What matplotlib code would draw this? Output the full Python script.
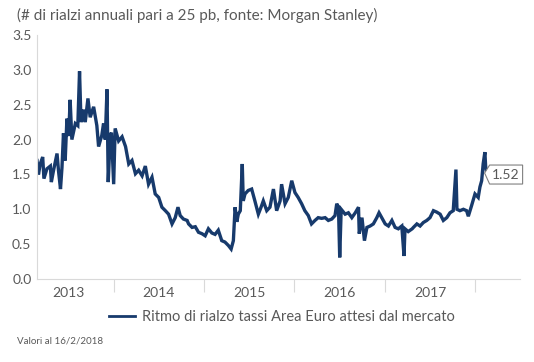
import matplotlib
matplotlib.use("Agg")
import matplotlib.pyplot as plt
import matplotlib.dates as mdates
from matplotlib.patches import Polygon
from matplotlib.transforms import Affine2D
import pandas as pd

dates = [
    "2013-02-24", "2013-03-02", "2013-03-09", "2013-03-19", "2013-03-24", "2013-04-05",
    "2013-04-19", "2013-04-23", "2013-05-02", "2013-05-16", "2013-05-22", "2013-05-30",
    "2013-06-05", "2013-06-11", "2013-06-18", "2013-06-25", "2013-07-02", "2013-07-08",
    "2013-07-15", "2013-07-29", "2013-08-08", "2013-08-15", "2013-08-21", "2013-08-31",
    "2013-09-07", "2013-09-18", "2013-09-27", "2013-10-11", "2013-10-24", "2013-10-31",
    "2013-11-13", "2013-11-20", "2013-11-27", "2013-12-04", "2013-12-09", "2013-12-17",
    "2013-12-22", "2013-12-31", "2014-01-06", "2014-01-20", "2014-02-03", "2014-02-17",
    "2014-03-02", "2014-03-15", "2014-03-29", "2014-04-11", "2014-04-25", "2014-05-08",
    "2014-05-21", "2014-06-04", "2014-06-17", "2014-07-01", "2014-07-14", "2014-07-28",
    "2014-08-10", "2014-08-24", "2014-09-06", "2014-09-17", "2014-09-26", "2014-10-09",
    "2014-10-24", "2014-10-30", "2014-11-13", "2014-11-26", "2014-12-09", "2014-12-23",
    "2015-01-05", "2015-01-18", "2015-02-01", "2015-02-14", "2015-02-27", "2015-03-13",
    "2015-03-26", "2015-04-09", "2015-04-20", "2015-04-29", "2015-05-06", "2015-05-13",
    "2015-05-19", "2015-05-27", "2015-06-04", "2015-06-08", "2015-06-15", "2015-06-28",
    "2015-07-12", "2015-07-25", "2015-08-08", "2015-08-19", "2015-08-28", "2015-09-11",
    "2015-09-24", "2015-10-08", "2015-10-21", "2015-11-04", "2015-11-10", "2015-11-24",
    "2015-12-07", "2015-12-21", "2016-01-03", "2016-01-16", "2016-01-30", "2016-02-12",
    "2016-02-26", "2016-03-10", "2016-03-24", "2016-04-06", "2016-04-20", "2016-05-04",
    "2016-05-17", "2016-05-31", "2016-06-13", "2016-06-20", "2016-06-27", "2016-07-02",
    "2016-07-08", "2016-07-24", "2016-08-06", "2016-08-20", "2016-09-03", "2016-09-16",
    "2016-09-19", "2016-09-30", "2016-10-10", "2016-10-20", "2016-11-02", "2016-11-15",
    "2016-11-29", "2016-12-08", "2016-12-19", "2017-01-02", "2017-01-15", "2017-01-29",
    "2017-02-11", "2017-02-24", "2017-03-10", "2017-03-19", "2017-03-23", "2017-04-05",
    "2017-04-21", "2017-04-26", "2017-05-10", "2017-05-23", "2017-06-05", "2017-06-19",
    "2017-07-02", "2017-07-16", "2017-07-29", "2017-08-12", "2017-08-25", "2017-09-08",
    "2017-09-21", "2017-10-04", "2017-10-15", "2017-10-19", "2017-10-31", "2017-11-14",
    "2017-11-27", "2017-12-04", "2017-12-17", "2017-12-31", "2018-01-13", "2018-01-20",
    "2018-01-27", "2018-02-02", "2018-02-09", "2018-02-12", "2018-02-16",
]
values = [
    1.70, 1.50, 1.65, 1.75, 1.44, 1.58,
    1.62, 1.39, 1.56, 1.80, 1.55, 1.29,
    1.60, 2.09, 1.70, 2.30, 2.05, 2.57,
    2.00, 2.23, 2.20, 2.98, 2.25, 2.43,
    2.25, 2.59, 2.32, 2.47, 2.20, 1.90,
    2.06, 2.23, 2.00, 2.72, 1.39, 2.05,
    2.10, 1.36, 2.16, 1.98, 2.04, 1.90,
    1.65, 1.70, 1.51, 1.56, 1.48, 1.62,
    1.36, 1.46, 1.22, 1.17, 1.03, 0.98,
    0.93, 0.79, 0.88, 1.03, 0.91, 0.86,
    0.84, 0.79, 0.74, 0.75, 0.67, 0.65,
    0.62, 0.72, 0.66, 0.64, 0.70, 0.55,
    0.53, 0.48, 0.43, 0.55, 1.03, 0.82,
    0.93, 0.98, 1.65, 1.12, 1.22, 1.27,
    1.29, 1.12, 0.93, 1.03, 1.12, 0.98,
    1.03, 1.29, 0.98, 1.12, 1.36, 1.08,
    1.17, 1.41, 1.24, 1.17, 1.08, 0.98,
    0.91, 0.79, 0.84, 0.88, 0.87, 0.88,
    0.84, 0.86, 0.91, 1.08, 1.03, 0.31,
    1.00, 0.93, 0.95, 0.88, 0.95, 1.03,
    0.65, 0.88, 0.55, 0.74, 0.76, 0.79,
    0.88, 0.95, 0.88, 0.79, 0.76, 0.84,
    0.74, 0.72, 0.76, 0.33, 0.72, 0.68,
    0.72, 0.74, 0.79, 0.76, 0.81, 0.84,
    0.88, 0.98, 0.96, 0.93, 0.84, 0.88,
    0.95, 0.98, 1.57, 1.00, 0.98, 1.00,
    0.98, 0.90, 1.05, 1.22, 1.17, 1.32,
    1.41, 1.65, 1.82, 1.62, 1.52,
]
year_labels = ["2013", "2014", "2015", "2016", "2017"]
y_ticks = [0.0, 0.5, 1.0, 1.5, 2.0, 2.5, 3.0, 3.5]
series_label = "Ritmo di rialzo tassi Area Euro attesi dal mercato"
title_text = "(# di rialzi annuali pari a 25 pb, fonte: Morgan Stanley)"
note_text = "Valori al 16/2/2018"
last_label = "1.52"

LINE = "#173a6c"
TXT = "#595959"
AX = "#d9d9d9"
FONT = ["Lato", "DejaVu Sans"]

x = pd.to_datetime(dates)

fig = plt.figure(figsize=(5.34, 3.62), dpi=100)
W, H = 534, 362
ax = fig.add_axes([37 / W, 1 - 279 / H, (520 - 37) / W, (279 - 35) / H])

ax.plot(x, values, color=LINE, lw=2.4, solid_joinstyle="miter")

ax.set_ylim(0, 3.5)
ax.set_xlim(pd.Timestamp("2013-02-24"), pd.Timestamp("2018-07-01"))
ax.set_yticks(y_ticks)
ax.set_yticklabels([f"{v:.1f}" for v in y_ticks], family=FONT, fontsize=10, color=TXT)
ax.tick_params(axis="y", length=0, pad=4)

major = [pd.Timestamp(f"{int(y) + 1}-01-01") for y in year_labels]
minor = [pd.Timestamp(f"{y}-07-02") for y in year_labels]
ax.set_xticks(major)
ax.set_xticklabels([""] * len(major))
ax.set_xticks(minor, minor=True)
ax.set_xticklabels(year_labels, minor=True, family=FONT, fontsize=10, color=TXT)
ax.tick_params(axis="x", which="major", length=9, width=0.8, color=AX, direction="out")
ax.tick_params(axis="x", which="minor", length=0, pad=6)

for s in ["top", "right"]:
    ax.spines[s].set_visible(False)
ax.spines["left"].set_color(AX)
ax.spines["bottom"].set_color(AX)
ax.spines["left"].set_linewidth(0.8)
ax.spines["bottom"].set_linewidth(0.8)

# end-value callout
tip_x = mdates.date2num(x[-1])
tip_y = values[-1]
shape = [(0, 0), (5, 8), (38, 8), (38, -11), (5, -11)]
poly_tr = Affine2D().translate(*ax.transData.transform((tip_x, tip_y))) + Affine2D().translate(-2, 0)
poly = Polygon(shape, closed=True, facecolor="white", edgecolor="#7f7f7f", lw=0.8,
               transform=poly_tr, clip_on=False, zorder=5)
ax.add_patch(poly)
ax.annotate(last_label, xy=(x[-1], tip_y), xytext=(19.5, -1.5), textcoords="offset pixels",
            ha="center", va="center", family=FONT, fontsize=10, color=TXT, zorder=6,
            annotation_clip=False)

fig.text(17 / W, 1 - 15 / H, title_text, family=FONT, fontsize=11, color=TXT, va="center", ha="left")

# legend
fig.legend([plt.Line2D([], [], color=LINE, lw=2)], [series_label],
           loc="center", bbox_to_anchor=(282 / W, 1 - 317 / H), frameon=False,
           prop={"family": FONT, "size": 10.5}, labelcolor=TXT, handlelength=1.8,
           handletextpad=0.5)
fig.text(17 / W, 1 - 341 / H, note_text, family=FONT, fontsize=7, color=TXT, va="center", ha="left")

fig.savefig("out.png", dpi=100)
